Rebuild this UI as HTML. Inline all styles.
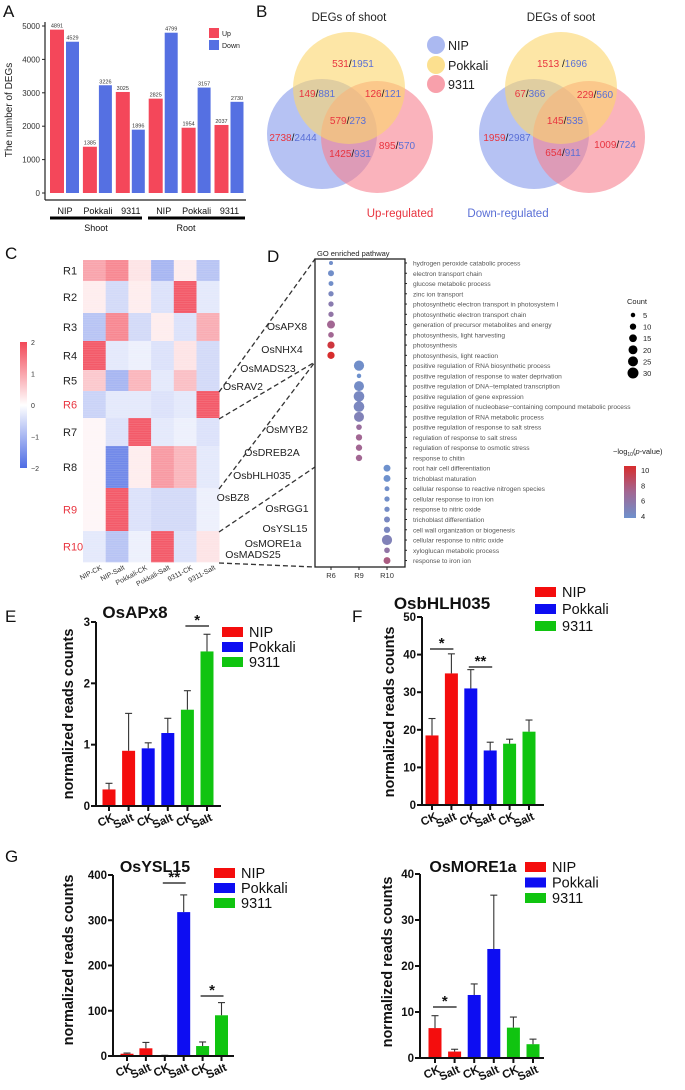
<!DOCTYPE html>
<html><head><meta charset="utf-8"><style>
html,body{margin:0;padding:0;background:#fff;}
svg{display:block;font-family:"Liberation Sans",Arial,sans-serif;}
</style></head><body>
<svg id="fig" width="685" height="1090" viewBox="0 0 685 1090" xmlns="http://www.w3.org/2000/svg"></svg>
<script>
// ---------- DATA ----------
// Panel A
const degGroups = ["NIP","Pokkali","9311","NIP","Pokkali","9311"];
const degUp = [4891,1385,3025,2825,1954,2037];
const degDown = [4529,3226,1896,4799,3157,2730];
const degTicks = [0,1000,2000,3000,4000,5000];
// Panel C
const heatCols = ["NIP-CK","NIP-Salt","Pokkali-CK","Pokkali-Salt","9311-CK","9311-Salt"];
const heatRows = ["R1","R2","R3","R4","R5","R6","R7","R8","R9","R10"];
const heatRowSizes = [21,32,28,29,21,27,28,42,43,31];
const heatVals = [
 [1.0,1.3,0.3,-1.0,0.2,-0.8],
 [0.2,-0.5,0.2,-0.4,1.8,-0.3],
 [-0.8,1.3,-0.5,0.2,-0.4,0.9],
 [1.8,-0.3,-0.2,-0.4,0.3,-0.5],
 [0.6,-1.0,0.8,-0.3,0.7,-0.5],
 [-0.6,-0.3,-0.3,-0.4,-0.3,1.8],
 [0.1,-0.4,1.8,-0.3,-0.2,-0.4],
 [0.1,-1.6,0.2,1.1,0.8,-0.3],
 [0.1,1.8,-0.4,-0.5,-0.5,-0.2],
 [-0.3,-0.8,-0.2,1.8,-0.4,0.3]];
// Panel D
const goTerms = ["hydrogen peroxide catabolic process","electron transport chain","glucose metabolic process","zinc ion transport","photosynthetic electron transport in photosystem I","photosynthetic electron transport chain","generation of precursor metabolites and energy","photosynthesis, light harvesting","photosynthesis","photosynthesis, light reaction","positive regulation of RNA biosynthetic process","positive regulation of response to water deprivation","positive regulation of DNA\u2212templated transcription","positive regulation of gene expression","positive regulation of nucleobase\u2212containing compound metabolic process","positive regulation of RNA metabolic process","positive regulation of response to salt stress","regulation of response to salt stress","regulation of response to osmotic stress","response to chitin","root hair cell differentiation","trichoblast maturation","cellular response to reactive nitrogen species","cellular response to iron ion","response to nitric oxide","trichoblast differentiation","cell wall organization or biogenesis","cellular response to nitric oxide","xyloglucan metabolic process","response to iron ion"];
const goCluster = [0,0,0,0,0,0,0,0,0,0,1,1,1,1,1,1,1,1,1,1,2,2,2,2,2,2,2,2,2,2];
const goClusterNames = ["R6","R9","R10"];
const goCount = [4,9,6,7,7,7,16,8,13,13, 26,5,25,28,28,25,8,10,10,10, 12,12,6,7,7,9,10,26,8,12];
const goLogP = [4,4,4,4.6,5.5,6,7,7,9.5,10, 4,3.8,4.2,4.5,4.6,5,6.5,7,7,7, 3.8,3.8,4,4,4.2,4.5,4.6,5,6,7.5];
const countLegend = [5,10,15,20,25,30];
const pLegend = [4,6,8,10];
// Bar panels
const barCats = ["CK","Salt","CK","Salt","CK","Salt"];
const apx8Mean = [0.27,0.9,0.94,1.19,1.57,2.52];
const apx8Err = [0.1,0.61,0.09,0.24,0.31,0.28];
const apx8Ticks = [0,1,2,3];
const bhlhMean = [18.5,35,31,14.5,16.3,19.5];
const bhlhErr = [4.5,5.2,5,2.2,1.2,3.1];
const bhlhTicks = [0,10,20,30,40,50];
const yslMean = [5,17,1,318,22,90];
const yslErr = [1.5,13,0.5,38,9,28];
const yslTicks = [0,100,200,300,400];
const moreMean = [6.5,1.4,13.7,23.7,6.6,3.0];
const moreErr = [2.7,0.5,2.4,11.7,2.3,1.1];
const moreTicks = [0,10,20,30,40];

// ---------- HELPERS ----------
const NS="http://www.w3.org/2000/svg";
const svg=document.getElementById('fig');
function mk(tag,attrs,parent){const e=document.createElementNS(NS,tag);for(const k in attrs)e.setAttribute(k,attrs[k]);(parent||svg).appendChild(e);return e;}
function txt(s,attrs,parent){const e=mk('text',attrs,parent);e.textContent=s;return e;}
function lerp(a,b,t){return a+(b-a)*t;}
function heatColor(v){const t=Math.max(-1,Math.min(1,v/2));let c;
 if(t>=0)c=[lerp(255,242,t),lerp(255,72,t),lerp(255,88,t)];else c=[lerp(255,78,-t),lerp(255,108,-t),lerp(255,228,-t)];
 return 'rgb('+c.map(Math.round).join(',')+')';}
function pColor(p){const t=Math.max(0,Math.min(1,(p-3.8)/6.2));const lo=[110,145,205],mid=[160,105,150],hi=[215,45,45];
 let c;if(t<0.5)c=lo.map((x,i)=>lerp(x,mid[i],t*2));else c=mid.map((x,i)=>lerp(x,hi[i],(t-0.5)*2));return 'rgb('+c.map(Math.round).join(',')+')';}

// Panel letters
[["A",3,17],["B",256,17],["C",5,259],["D",267,262],["E",5,622],["F",352,622],["G",5,862]].forEach(([l,x,y])=>{
 const t=txt(l,{x:x,y:y,'font-size':17,fill:'#111'});
 
 
});

// ---------- PANEL A ----------
(function(){
 const g=mk('g',{});
 
 
 const y0=193,yTop=26,vmax=5000;
 const y=v=>y0-(v/vmax)*(y0-yTop);
 const x=i=>50+i*32.9;
 mk('line',{x1:45,y1:22,x2:45,y2:200,stroke:'#222','stroke-width':1.2},g);
 mk('line',{x1:45,y1:200,x2:246,y2:200,stroke:'#222','stroke-width':1.2},g);
 degTicks.forEach(t=>{mk('line',{x1:42,y1:y(t),x2:45,y2:y(t),stroke:'#222'},g);
  const tl=txt(t,{x:40,y:y(t)+3,'font-size':8,'text-anchor':'end',fill:'#333'},g);
  
  });
 const yl=txt('The number of DEGs',{x:0,y:0,'font-size':10,'text-anchor':'middle',fill:'#222',transform:'translate(12,110) rotate(-90)'},g);
 
 
 degUp.forEach((v,i)=>{
  const b=mk('rect',{x:x(i),y:y(v),width:14,height:y0-y(v),fill:'#f4475a'},g);
  
  
  txt(v,{x:x(i)+7,y:y(v)-2,'font-size':5.5,'text-anchor':'middle',fill:'#333'},g);
 });
 degDown.forEach((v,i)=>{
  const b=mk('rect',{x:x(i)+16,y:y(v),width:13,height:y0-y(v),fill:'#5570e2'},g);
  
  
  txt(v,{x:x(i)+22.5,y:y(v)-2,'font-size':5.5,'text-anchor':'middle',fill:'#333'},g);
 });
 degGroups.forEach((n,i)=>{const t=txt(n,{x:x(i)+15,y:214,'font-size':9,'text-anchor':'middle',fill:'#111'},g);
  
  });
 mk('line',{x1:50,y1:218,x2:142,y2:218,stroke:'#000','stroke-width':3},g);
 mk('line',{x1:148,y1:218,x2:245,y2:218,stroke:'#000','stroke-width':3},g);
 txt('Shoot',{x:96,y:231,'font-size':9,'text-anchor':'middle',fill:'#111'},g);
 txt('Root',{x:186,y:231,'font-size':9,'text-anchor':'middle',fill:'#111'},g);
 const l1=mk('rect',{x:209,y:28,width:10,height:10,fill:'#f4475a'},g);
 
 
 const l2=mk('rect',{x:209,y:40,width:10,height:10,fill:'#5570e2'},g);
 
 
 txt('Up',{x:222,y:36,'font-size':7,fill:'#222'},g);
 txt('Down',{x:222,y:48,'font-size':7,fill:'#222'},g);
})();

// ---------- PANEL B ----------
(function(){
 const g=mk('g',{});
 
 
 function venn(cx,title,nums,nm){
  const vg=mk('g',{},g);
  
  
  txt(title,{x:cx,y:21,'font-size':11.5,'text-anchor':'middle',fill:'#222'},vg);
  mk('circle',{cx:cx-27,cy:134,r:55,fill:'#8fa2ec','fill-opacity':0.65},vg);
  mk('circle',{cx:cx+28,cy:137,r:56,fill:'#f6808f','fill-opacity':0.6},vg);
  mk('circle',{cx:cx,cy:88,r:56,fill:'#fbd56a','fill-opacity':0.6},vg);
  nums.forEach(([a,b,x,y])=>{
   const t=mk('text',{x:cx+x,y:y+4,'font-size':10,'text-anchor':'middle'},vg);
   const s1=mk('tspan',{fill:'#e8343f'},t);s1.textContent=a;
   const s2=mk('tspan',{fill:'#111'},t);s2.textContent='/';
   const s3=mk('tspan',{fill:'#5a6fd6'},t);s3.textContent=b;
  });
 }
 venn(349,'DEGs of shoot',[[531,1951,4,63],[149,881,-32,93],[126,121,34,93],[579,273,-1,120],[2738,2444,-56,137],[1425,931,1,153],[895,570,48,145]],'venn-shoot');
 venn(561,'DEGs of soot',[['1513 ',1696,1,63],[67,366,-31,93],[229,560,34,94],[145,535,4,120],[1959,2987,-54,137],[654,911,2,152],[1009,724,54,144]],'venn-root');
 [['NIP','#8fa2ec',45],['Pokkali','#fbd56a',65],['9311','#f6808f',84]].forEach(([n,c,y])=>{
  const d=mk('circle',{cx:436,cy:y,r:9,fill:c,'fill-opacity':0.75},g);
  
  
  txt(n,{x:448,y:y+5,'font-size':12.5,fill:'#222'},g);
 });
 txt('Up-regulated',{x:400,y:217,'font-size':11.5,'text-anchor':'middle',fill:'#e8343f'},g);
 txt('Down-regulated',{x:508,y:217,'font-size':11.5,'text-anchor':'middle',fill:'#5a6fd6'},g);
})();

// ---------- PANEL C ----------
(function(){
 const g=mk('g',{});
 
 
 const x0=83,cw=22.7,top=260;
 let yy=top;
 heatRows.forEach((r,ri)=>{
  const h=heatRowSizes[ri];
  heatVals[ri].forEach((v,ci)=>{
   const c=mk('rect',{x:x0+ci*cw,y:yy,width:cw+0.3,height:h+0.3,fill:heatColor(v)},g);
   
   
  });
  const red=(r==='R6'||r==='R9'||r==='R10');
  const lb=txt(r,{x:63,y:yy+h/2+4,'font-size':11,fill:red?'#e8343f':'#222'},g);
  
  
  yy+=h;
 });
 for(let s=top;s<yy;s+=2.3){mk('line',{x1:x0,y1:s,x2:x0+6*cw,y2:s,stroke:'#fff','stroke-opacity':0.13,'stroke-width':0.8},g);}
 heatCols.forEach((c,ci)=>{const t=txt(c,{x:0,y:0,'font-size':7,'text-anchor':'end',fill:'#333',transform:'translate('+(x0+ci*cw+cw/2+8)+',569) rotate(-28)'},g);
  
  });
 const gd=mk('defs',{});
 const lg=mk('linearGradient',{id:'hg',x1:0,y1:0,x2:0,y2:1},gd);
 [[0,2],[0.25,1],[0.5,0],[0.75,-1],[1,-2]].forEach(([o,v])=>mk('stop',{offset:o,'stop-color':heatColor(v)},lg));
 const cb=mk('rect',{x:20,y:342,width:7,height:126,fill:'url(#hg)'},g);
 
 
 [['2',342],['1',373.5],['0',405],['\u22121',436.5],['\u22122',468]].forEach(([l,y])=>txt(l,{x:31,y:y+3,'font-size':7,fill:'#333'},g));
 [['OsAPX8',287,326],['OsNHX4',282,349],['OsMADS23',268,368],['OsRAV2',243,386],['OsMYB2',287,429],['OsDREB2A',272,452],['OsbHLH035',262,475],['OsBZ8',233,497],['OsRGG1',287,508],['OsYSL15',285,528],['OsMORE1a',273,543],['OsMADS25',253,554]].forEach(([n,x,y])=>{
  const t=txt(n,{x:x,y:y+4,'font-size':10.5,'text-anchor':'middle',fill:'#222'},g);
  
  
 });
 [[219,392,315,259],[219,419,315,362],[219,489,315,362],[219,532,315,467],[219,563,315,567]].forEach(([a,b,c,d])=>{
  const l=mk('line',{x1:a,y1:b,x2:c,y2:d,stroke:'#333','stroke-width':1.3,'stroke-dasharray':'5,3'},g);
  
  
 });
})();

// ---------- PANEL D ----------
(function(){
 const g=mk('g',{});
 
 
 const L=315,R=405,T=259,B=567;
 const colX=i=>331+i*28;
 const rowY=i=>263+i*10.26;
 const rad=c=>Math.sqrt(c)*1.0;
 mk('rect',{x:L,y:T,width:R-L,height:B-T,fill:'none',stroke:'#222','stroke-width':1.3},g);
 txt('GO enriched pathway',{x:317,y:256,'font-size':7.5,fill:'#222'},g);
 goClusterNames.forEach((n,i)=>{mk('line',{x1:colX(i),y1:B,x2:colX(i),y2:B+3,stroke:'#222'},g);
  const t=txt(n,{x:colX(i),y:578,'font-size':7.5,'text-anchor':'middle',fill:'#333'},g);
  
  });
 goTerms.forEach((term,i)=>{
  mk('line',{x1:R,y1:rowY(i),x2:R+2,y2:rowY(i),stroke:'#222'},g);
  const t=txt(term,{x:413,y:rowY(i)+2.5,'font-size':6.6,fill:'#555'},g);
  
  
  const d=mk('circle',{cx:colX(goCluster[i]),cy:rowY(i),r:rad(goCount[i]),fill:pColor(goLogP[i])},g);
  
  
 });
 txt('Count',{x:627,y:304,'font-size':7.5,fill:'#222'},g);
 countLegend.forEach((c,i)=>{const y=315+i*11.6;
  const d=mk('circle',{cx:633,cy:y,r:rad(c),fill:'#000'},g);
  
  
  txt(c,{x:643,y:y+3,'font-size':7.5,fill:'#222'},g);});
 const t=mk('text',{x:613,y:454,'font-size':7.5,fill:'#222'},g);
 
 
 t.innerHTML='\u2212log<tspan font-size="5" dy="2">10</tspan><tspan dy="-2">(</tspan><tspan font-style="italic">p</tspan>-value)';
 const gd=mk('defs',{});
 const lg=mk('linearGradient',{id:'pg',x1:0,y1:0,x2:0,y2:1},gd);
 [[0,10],[0.5,7],[1,3.8]].forEach(([o,v])=>mk('stop',{offset:o,'stop-color':pColor(v)},lg));
 const pb=mk('rect',{x:624,y:466,width:12,height:52,fill:'url(#pg)'},g);
 
 
 pLegend.forEach(p=>{const y=470+(10-p)/6*46;txt(p,{x:641,y:y+3,'font-size':7.5,fill:'#222'},g);});
})();

// ---------- BAR PANELS ----------
const groupColors=['#f40d0d','#f40d0d','#0d0df2','#0d0df2','#10c410','#10c410'];
function barPanel(o){
 const g=mk('g',{});
 
 
 const y=v=>o.y0-(v/o.vmax)*(o.y0-o.yTop);
 const xs=i=>o.x1+i*o.step;
 const t=txt(o.title,{x:o.tx,y:o.ty,'font-size':o.tfs||17,'font-weight':'bold','text-anchor':'middle',fill:'#111'},g);
 
 
 const yl=txt('normalized  reads counts',{x:0,y:0,'font-size':14.5,'font-weight':'bold','text-anchor':'middle',fill:'#111',transform:'translate('+o.ylx+','+o.yly+') rotate(-90)'},g);
 
 
 o.mean.forEach((v,i)=>{
  const cx=xs(i);
  const b=mk('rect',{x:cx-6.5,y:y(v),width:13,height:o.y0-y(v),fill:groupColors[i]},g);
  
  
  const et=y(v+o.err[i]);
  mk('line',{x1:cx,y1:y(v),x2:cx,y2:et,stroke:'#333','stroke-width':1.1},g);
  mk('line',{x1:cx-3.5,y1:et,x2:cx+3.5,y2:et,stroke:'#333','stroke-width':1.1},g);
 });
 mk('line',{x1:o.ax,y1:o.yTop,x2:o.ax,y2:o.y0+1,stroke:'#111','stroke-width':2},g);
 mk('line',{x1:o.ax-1,y1:o.y0,x2:o.xEnd,y2:o.y0,stroke:'#111','stroke-width':2},g);
 o.ticks.forEach(tk=>{mk('line',{x1:o.ax-5,y1:y(tk),x2:o.ax,y2:y(tk),stroke:'#111','stroke-width':2},g);
  const tl=txt(tk,{x:o.ax-6,y:y(tk)+4,'font-size':11.5,'font-weight':'bold','text-anchor':'end',fill:'#111'},g);
  
  });
 barCats.forEach((c,i)=>{const cx=xs(i);
  mk('line',{x1:cx,y1:o.y0,x2:cx,y2:o.y0+5,stroke:'#111','stroke-width':2},g);
  const xl=txt(c,{x:0,y:0,'font-size':11.5,'font-weight':'bold','text-anchor':'end',fill:'#111',transform:'translate('+(cx+6)+','+(o.y0+14)+') rotate(-25)'},g);
  
  });
 (o.sig||[]).forEach(([a,b,ly,s])=>{
  mk('line',{x1:xs(a)-2,y1:ly,x2:xs(b)+2,y2:ly,stroke:'#111','stroke-width':1.3},g);
  const st=txt(s,{x:(xs(a)+xs(b))/2,y:ly-1,'font-size':15,'font-weight':'bold','text-anchor':'middle',fill:'#111'},g);
  
  
 });
 [['NIP','#f40d0d'],['Pokkali','#0d0df2'],['9311','#10c410']].forEach(([n,c],i)=>{
  const ly=o.ly+i*o.lstep;
  const r=mk('rect',{x:o.lx,y:ly-5,width:21,height:10,fill:c},g);
  
  
  txt(n,{x:o.lx+27,y:ly+5,'font-size':14.5,fill:'#111'},g);
 });
}
barPanel({name:'osapx8-bar-chart',title:'OsAPx8',tx:135,ty:618,mean:apx8Mean,err:apx8Err,ticks:apx8Ticks,vmax:3,y0:806,yTop:622,ax:96,x1:109,step:19.6,xEnd:221,ylx:73,yly:714,lx:222,ly:632,lstep:15,sig:[[4,5,626,'*']]});
barPanel({name:'osbhlh035-bar-chart',title:'OsbHLH035',tx:442,ty:609,mean:bhlhMean,err:bhlhErr,ticks:bhlhTicks,vmax:50,y0:805,yTop:617,ax:422,x1:432,step:19.4,xEnd:544,ylx:394,yly:712,lx:535,ly:592,lstep:17,sig:[[0,1,649,'*'],[2,3,667,'**']]});
barPanel({name:'osysl15-bar-chart',title:'OsYSL15',tx:155,ty:872,tfs:16,mean:yslMean,err:yslErr,ticks:yslTicks,vmax:400,y0:1056,yTop:875,ax:113,x1:127,step:18.9,xEnd:234,ylx:73,yly:960,lx:214,ly:873,lstep:15,sig:[[2,3,883,'**'],[4,5,996,'*']]});
barPanel({name:'osmore1a-bar-chart',title:'OsMORE1a',tx:473,ty:872,tfs:16,mean:moreMean,err:moreErr,ticks:moreTicks,vmax:40,y0:1058,yTop:874,ax:420,x1:435,step:19.6,xEnd:544,ylx:392,yly:962,lx:525,ly:867,lstep:15.5,sig:[[0,1,1007,'*']]});
</script>
</body></html>
